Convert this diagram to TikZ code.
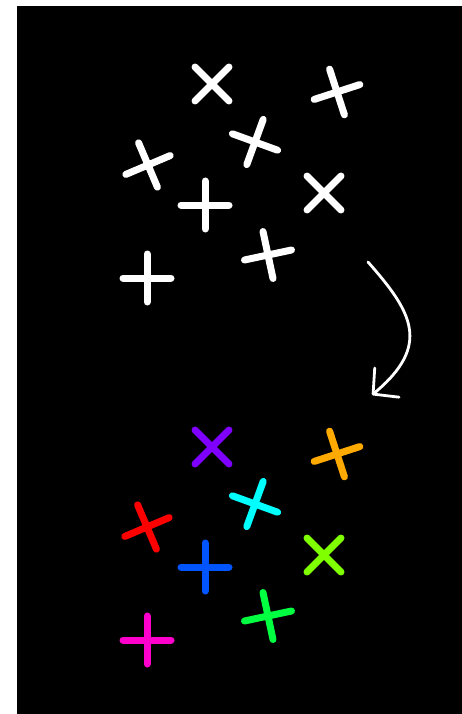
\documentclass[tikz,border=0pt]{standalone}
\usepackage{xcolor}
\usepackage{tikz}
\usetikzlibrary{arrows.meta,positioning,calc}

\definecolor{cvio}{RGB}{128,0,255}
\definecolor{corange}{RGB}{255,170,0}
\definecolor{ccyan}{RGB}{0,255,255}
\definecolor{cred}{RGB}{255,0,0}
\definecolor{cblue}{RGB}{0,85,255}
\definecolor{clime}{RGB}{128,255,0}
\definecolor{cgreen}{RGB}{0,255,64}
\definecolor{cmag}{RGB}{255,0,204}

\begin{document}
\begin{tikzpicture}[
    x=1pt, y=-1pt,
    crossline/.style={
        line width=7pt,
        line cap=round
    },
    crossmark/.pic={
        \draw[crossline,#1] (-24,0) -- (24,0) (0,-24) -- (0,24);
    },
    arr/.style={
        draw=white,
        line width=2.8pt,
        line cap=round,
        -{Straight Barb[length=18pt,width=38pt,round]}
    }
]

\useasboundingbox (0,0) rectangle (462,714);
\fill[black] (17,6) rectangle (462,714);

% before
\pic[rotate=45] (a1) at (212,84)  {crossmark=white};
\pic[rotate=18] (a2) at (337,92)  {crossmark=white};
\pic[rotate=-20] (a3) at (255,142) {crossmark=white};
\pic[rotate=23] (a4) at (148,165) {crossmark=white};
\pic (a5) at (205,205) {crossmark=white};
\pic[rotate=45] (a6) at (324,193) {crossmark=white};
\pic[rotate=12] (a7) at (268,255) {crossmark=white};
\pic (a8) at (147,278) {crossmark=white};

% after
\pic[rotate=45] (b1) at (212,447) {crossmark=cvio};
\pic[rotate=18] (b2) at (337,454) {crossmark=corange};
\pic[rotate=-20] (b3) at (255,504) {crossmark=ccyan};
\pic[rotate=23] (b4) at (147,527) {crossmark=cred};
\pic (b5) at (205,567) {crossmark=cblue};
\pic[rotate=45] (b6) at (324,555) {crossmark=clime};
\pic[rotate=12] (b7) at (268,616) {crossmark=cgreen};
\pic (b8) at (147,640) {crossmark=cmag};

\coordinate (arrowtop) at (368,262);
\coordinate (arrowtip) at (372,395);
\draw[arr] (arrowtop) .. controls (412,312) and (432,345) .. (arrowtip);

\end{tikzpicture}
\end{document}
